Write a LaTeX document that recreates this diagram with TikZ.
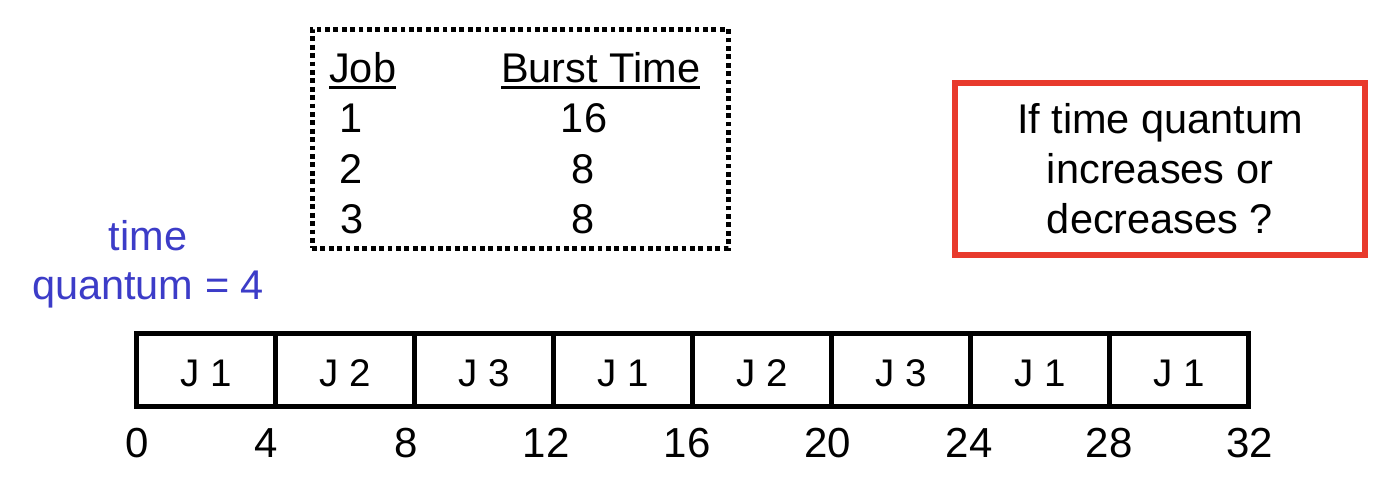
\documentclass[tikz,border=0pt]{standalone}
\usepackage{fontspec}
\setmainfont{Liberation Sans}
\definecolor{qred}{RGB}{232,58,44}
\definecolor{qblue}{RGB}{60,60,200}
\begin{document}
\begin{tikzpicture}[x=1pt,y=-1pt,
  txt/.style={inner sep=0pt, anchor=base, font=\fontsize{41.5}{50}\selectfont},
  cell/.style={draw=black, line width=5pt, minimum width=139pt, minimum height=73pt, inner sep=0pt},
  lbl/.style={inner sep=0pt, anchor=base, font=\fontsize{38.5}{44}\selectfont},
  tick/.style={inner sep=0pt, anchor=base, font=\fontsize{42}{50}\selectfont},
  uline/.style={line width=3pt},
  dotbox/.style={draw=black, line width=5pt, dash pattern=on 4.8pt off 3.6pt, minimum width=416pt, minimum height=219pt, inner sep=0pt},
  redbox/.style={draw=qred, line width=6pt, minimum width=410pt, minimum height=172pt, inner sep=0pt, align=center, font=\fontsize{41.5}{50}\selectfont},
  bluetxt/.style={text=qblue, inner sep=0pt, align=center, font=\fontsize{41.5}{49}\selectfont}]
\useasboundingbox (0,0) rectangle (1388,482);
\fill[white] (0,0) rectangle (1388,482);

% table
\node[dotbox] (tbl) at (520,138.5) {};
\node[txt, anchor=base west] (job) at (329,82) {Job};
\node[txt, anchor=base west] (bt) at (501,82) {Burst Time};
\draw[uline] ([yshift=-5pt]job.base west) -- ([yshift=-5pt]job.base east);
\draw[uline] ([yshift=-5pt]bt.base west) -- ([yshift=-5pt]bt.base east);
\node[txt] (j1) at (351,132) {1};
\node[txt] (b1) at (584,132) {16};
\node[txt] (j2) at (351,183) {2};
\node[txt] (b2) at (583,183) {8};
\node[txt] (j3) at (352,233) {3};
\node[txt] (b3) at (583,233) {8};

% question box
\node[redbox] (q) at (1160,169) {If time quantum\\increases or\\decreases ?};

% quantum label
\node[bluetxt] (tq) at (148,264) {time\\quantum = 4};

% gantt chart
\foreach \i/\j in {1/1,2/2,3/3,4/1,5/2,6/3,7/1,8/1}{
  \node[cell] (c\i) at ({136.5+139*(\i-0.5)},369.5) {};
  \node[lbl] (l\i) at ([yshift=-16.5pt]c\i.center) {J \j};
}
\foreach \k/\x/\v in {0/137.5/0,1/266/4,2/406/8,3/546/12,4/687/16,5/827.5/20,6/969/24,7/1109/28,8/1249.5/32}{
  \node[tick] (t\k) at (\x,457) {\v};
}
\end{tikzpicture}
\end{document}
